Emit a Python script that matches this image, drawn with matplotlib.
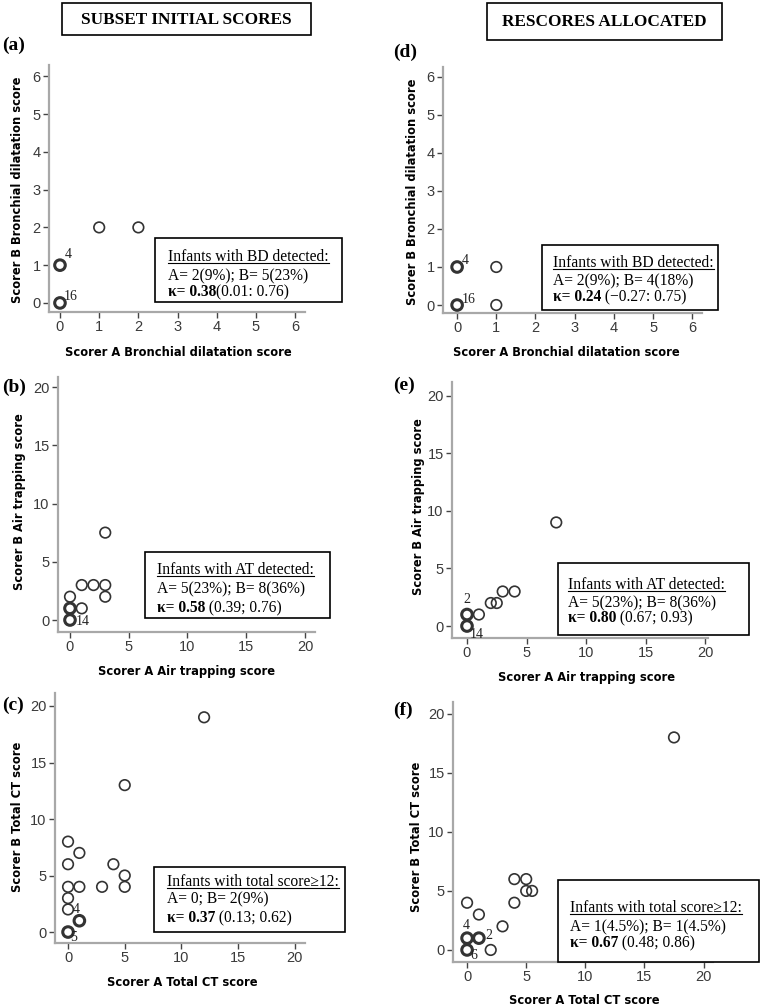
import matplotlib
matplotlib.use("Agg")
import matplotlib.pyplot as plt
from matplotlib.lines import Line2D
from matplotlib.patches import Rectangle

W, H = 760, 1008

# (a) subset initial scores - bronchial dilatation
a_x = [0, 0, 1, 2]
a_y = [1, 0, 2, 2]
a_heavy = [1, 1, 0, 0]
a_ticks = [0, 1, 2, 3, 4, 5, 6]

# (b) subset initial scores - air trapping
b_x = [0, 0, 0, 1, 1, 2, 3, 3, 3]
b_y = [0, 1, 2, 1, 3, 3, 3, 2, 7.5]
b_heavy = [1, 1, 0, 0, 0, 0, 0, 0, 0]

# (c) subset initial scores - total CT
c_x = [0, 0, 0, 0, 0, 0, 1, 1, 1, 3, 4, 5, 5, 5, 12]
c_y = [0, 2, 3, 4, 6, 8, 1, 4, 7, 4, 6, 4, 5, 13, 19]
c_heavy = [1, 0, 0, 0, 0, 0, 1, 0, 0, 0, 0, 0, 0, 0, 0]

# (d) rescores - bronchial dilatation
d_x = [0, 0, 1, 1]
d_y = [1, 0, 1, 0]
d_heavy = [1, 1, 0, 0]

# (e) rescores - air trapping
e_x = [0, 0, 1, 2, 2.5, 3, 4, 7.5]
e_y = [0, 1, 1, 2, 2, 3, 3, 9]
e_heavy = [1, 1, 0, 0, 0, 0, 0, 0]

# (f) rescores - total CT
f_x = [0, 0, 0, 1, 1, 2, 3, 4, 4, 5, 5, 5.5, 17.5]
f_y = [0, 1, 4, 1, 3, 0, 2, 4, 6, 6, 5, 5, 18]
f_heavy = [1, 1, 0, 1, 0, 0, 0, 0, 0, 0, 0, 0, 0]

big_ticks = [0, 5, 10, 15, 20]

fig = plt.figure(figsize=(7.6, 10.08), dpi=100)
fig.patch.set_facecolor("white")


def fx(px):
    return px / W


def fy(py):
    return 1 - py / H


def panel(box, xlim, ylim, ticks, xs, ys, heavy):
    l, t, r, b = box
    ax = fig.add_axes([fx(l), fy(b), (r - l) / W, (b - t) / H])
    ax.set_xlim(xlim)
    ax.set_ylim(ylim)
    ax.set_xticks(ticks)
    ax.set_yticks(ticks)
    for s in ["top", "right"]:
        ax.spines[s].set_visible(False)
    for s in ["left", "bottom"]:
        ax.spines[s].set_color("#a8a8a8")
        ax.spines[s].set_linewidth(1.6)
    ax.tick_params(direction="out", length=4, width=1, color="#444444",
                   labelcolor="#3a3a3a", labelsize=10.5, pad=2)
    for lab in ax.get_xticklabels() + ax.get_yticklabels():
        lab.set_family("Liberation Sans")
    ax.patch.set_alpha(0)
    lw = [2.2 if h else 1.2 for h in heavy]
    ax.scatter(xs, ys, s=58, facecolors="none", edgecolors="#333333",
               linewidths=lw, zorder=3, clip_on=False)
    return ax


def tag(ax, s, xy, off, ha="left", va="center"):
    ax.annotate(s, xy, xytext=off, textcoords="offset pixels", ha=ha, va=va,
                fontsize=10, family="Liberation Serif", color="#222222")


def rich_line(x, y, parts, underline=False):
    rend = fig.canvas.get_renderer()
    cur = x
    for s, w in parts:
        t = fig.text(fx(cur), fy(y), s, fontsize=11.2, family="Liberation Serif",
                     weight=w, va="baseline", ha="left", zorder=6)
        cur += t.get_window_extent(renderer=rend).width
    if underline:
        fig.add_artist(Line2D([fx(x), fx(cur)], [fy(y + 2), fy(y + 2)],
                              color="black", lw=0.8, zorder=6))


def info_box(box, x, ys, lines):
    l, t, r, b = box
    fig.add_artist(Rectangle((fx(l), fy(b)), (r - l) / W, (b - t) / H,
                             transform=fig.transFigure, facecolor="white",
                             edgecolor="black", lw=1.2, zorder=5))
    rich_line(x, ys[0], [(lines[0], "normal")], underline=True)
    rich_line(x, ys[1], [(lines[1], "normal")])
    rich_line(x, ys[2], [(lines[2], "bold"), (lines[3], "normal")])


def axis_labels(xl, xpos, yl, ypos):
    fig.text(fx(xpos[0]), fy(xpos[1]), xl, ha="center", va="center",
             fontsize=8.3, weight="bold", family="DejaVu Sans")
    fig.text(fx(ypos[0]), fy(ypos[1]), yl, ha="center", va="center",
             rotation=90, fontsize=8.3, weight="bold", family="DejaVu Sans")


def letter(s, x, y):
    fig.text(fx(x), fy(y), s, ha="left", va="center", fontsize=14,
             weight="bold", family="Liberation Serif")


# column headers
for (l, t, r, b), s in [((62, 3, 311, 35), "SUBSET INITIAL SCORES"),
                        ((487, 3, 722, 40), "RESCORES ALLOCATED")]:
    fig.add_artist(Rectangle((fx(l), fy(b)), (r - l) / W, (b - t) / H,
                             transform=fig.transFigure, facecolor="white",
                             edgecolor="black", lw=1.2))
    fig.text(fx((l + r) / 2), fy((t + b) / 2 + 1), s, ha="center", va="center",
             fontsize=12.4, weight="bold", family="Liberation Serif")

# (a)
ax = panel((49, 65, 305, 312), (-0.28, 6.25), (-0.24, 6.3), a_ticks, a_x, a_y, a_heavy)
tag(ax, "4", (0, 1), (5, 11))
tag(ax, "16", (0, 0), (4, 6))
letter("(a)", 2, 45)
axis_labels("Scorer A Bronchial dilatation score", (178, 353),
            "Scorer B Bronchial dilatation score", (18, 190))
info_box((155, 238, 342, 302), 168, [261, 280, 296],
         ["Infants with BD detected:", "A= 2(9%); B= 5(23%)", "κ= 0.38", "(0.01: 0.76)"])

# (d)
ax = panel((443, 67, 702, 313), (-0.36, 6.25), (-0.21, 6.26), a_ticks, d_x, d_y, d_heavy)
tag(ax, "4", (0, 1), (5, 6))
tag(ax, "16", (0, 0), (5, 6))
letter("(d)", 393, 52)
axis_labels("Scorer A Bronchial dilatation score", (566, 353),
            "Scorer B Bronchial dilatation score", (413, 192))
info_box((542, 245, 718, 310), 553, [267, 285, 301],
         ["Infants with BD detected:", "A= 2(9%); B= 4(18%)", "κ= 0.24", " (−0.27: 0.75)"])

# (b)
ax = panel((58, 377, 315, 632), (-1.02, 20.85), (-1.03, 20.86), big_ticks, b_x, b_y, b_heavy)
tag(ax, "14", (0, 0), (6, -1))
letter("(b)", 2, 387)
axis_labels("Scorer A Air trapping score", (187, 672),
            "Scorer B Air trapping score", (20, 502))
info_box((145, 552, 330, 618), 157, [574, 593, 612],
         ["Infants with AT detected:", "A= 5(23%); B= 8(36%)", "κ= 0.58", " (0.39; 0.76)"])

# (e)
ax = panel((452, 382, 708, 638), (-1.26, 20.25), (-1.04, 21.2), big_ticks, e_x, e_y, e_heavy)
tag(ax, "2", (0, 1), (0, 15), ha="center")
tag(ax, "14", (0, 0), (3, -8))
letter("(e)", 393, 385)
axis_labels("Scorer A Air trapping score", (586, 678),
            "Scorer B Air trapping score", (418, 507))
info_box((558, 563, 749, 635), 568, [589, 607, 622],
         ["Infants with AT detected:", "A= 5(23%); B= 8(36%)", "κ= 0.80", " (0.67; 0.93)"])

# (c)
ax = panel((55, 693, 305, 943), (-1.15, 20.9), (-0.97, 21.15), big_ticks, c_x, c_y, c_heavy)
tag(ax, "4", (0, 2), (5, 0))
tag(ax, "5", (0, 0), (2, -5))
letter("(c)", 2, 705)
axis_labels("Scorer A Total CT score", (182, 982),
            "Scorer B Total CT score", (18, 817))
info_box((154, 867, 345, 932), 167, [886, 903, 922],
         ["Infants with total score≥12:", "A= 0; B= 2(9%)", "κ= 0.37", " (0.13; 0.62)"])

# (f)
ax = panel((453, 702, 713, 962), (-1.19, 20.8), (-1.02, 21.0), big_ticks, f_x, f_y, f_heavy)
tag(ax, "4", (0, 1), (-1, 13), ha="center")
tag(ax, "2", (1, 1), (6, 3))
tag(ax, "6", (0, 0), (3, -6))
letter("(f)", 393, 710)
axis_labels("Scorer A Total CT score", (584, 1000),
            "Scorer B Total CT score", (417, 837))
info_box((558, 880, 759, 962), 570, [912, 931, 947],
         ["Infants with total score≥12:", "A= 1(4.5%); B= 1(4.5%)", "κ= 0.67", " (0.48; 0.86)"])

fig.savefig("out.png", dpi=100)
